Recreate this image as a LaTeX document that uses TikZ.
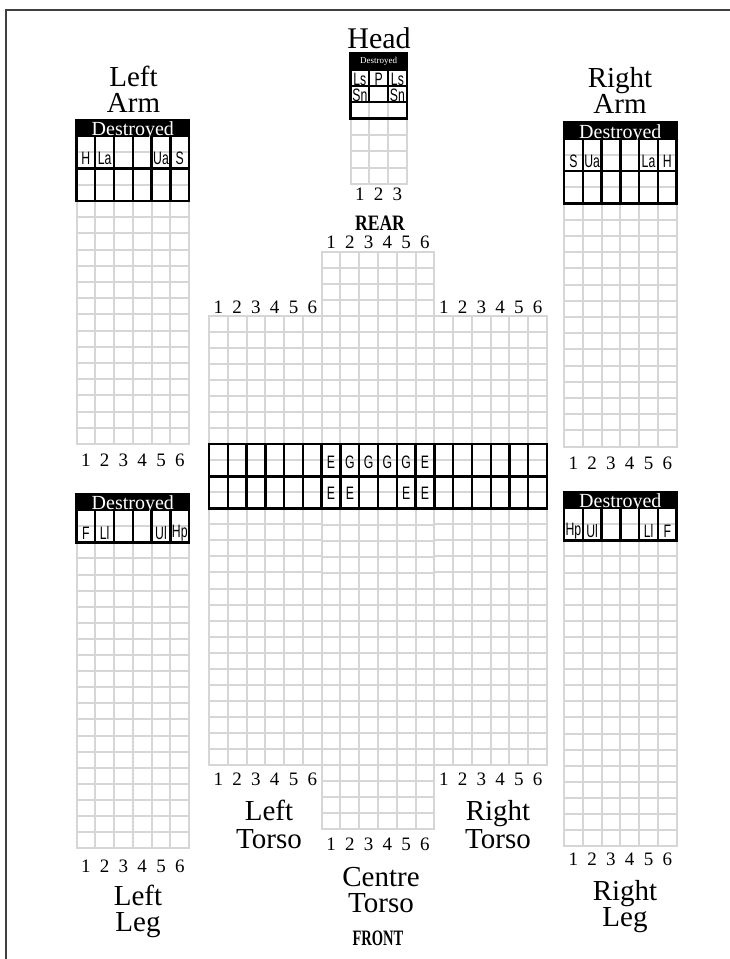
\documentclass[tikz,border=0pt]{standalone}
\usepackage{fontspec}
\usepackage{graphicx}
\setmainfont{Liberation Serif}
\newfontfamily\narrowsans[FakeStretch=0.68]{Liberation Sans}
\tikzset{
  gridline/.style={draw=gray!32, line width=2pt, line cap=rect},
  thickcell/.style={draw=black, line width=2.4pt},
  headerbar/.style={fill=black, draw=black, line width=2.4pt},
  bigtext/.style={font=\fontsize{29}{26}\selectfont, anchor=base, inner sep=0pt, align=center},
  numtext/.style={font=\fontsize{19}{21}\selectfont, anchor=base, inner sep=0pt},
  celltext/.style={font=\narrowsans\fontsize{18}{20}\selectfont, inner sep=0pt},
  desttext/.style={text=white, anchor=base, inner sep=0pt, font=\fontsize{20}{22}\selectfont},
  sidetext/.style={font=\bfseries\fontsize{22}{24}\selectfont, anchor=base, inner sep=0pt},
}
\newcommand{\mkgrid}[6]{%
  \foreach \i in {0,...,#3} {\draw[gridline] ({#1+\i*#5},{#2}) -- ({#1+\i*#5},{#2+#4*#6});}
  \foreach \j in {0,...,#4} {\draw[gridline] ({#1},{#2+\j*#6}) -- ({#1+#3*#5},{#2+\j*#6});}
}
\begin{document}
\begin{tikzpicture}[x=1pt,y=-1pt]
\useasboundingbox (0,0) rectangle (729,959);
% frame
\draw[line width=1.5pt, draw=black!75] (6,960) -- (6,10) -- (730,10);

% ---------------- HEAD ----------------
\mkgrid{350.5}{53}{3}{8}{18.78}{16.4}
\draw[headerbar] (350.5,53) rectangle ++(56.34,16.4);
\foreach \r in {0,1} {\foreach \c in {0,1,2} {\draw[thickcell] ({350.5+\c*18.78},{69.4+\r*16.4}) rectangle ++(18.78,16.4);}}
\draw[thickcell] (350.5,102.2) rectangle ++(56.34,16.4);
\node[text=white, inner sep=0pt, font=\fontsize{9}{10}\selectfont] (hdest) at (378.7,61) {Destroyed};
\node[celltext] (hls1) at ({350.5+0.5*18.78},79) {Ls};
\node[celltext] (hp) at ({350.5+1.5*18.78},79) {P};
\node[celltext] (hls2) at ({350.5+2.5*18.78},79) {Ls};
\node[celltext] (hsn1) at ({350.5+0.5*18.78},95.4) {Sn};
\node[celltext] (hsn2) at ({350.5+2.5*18.78},95.4) {Sn};
\node[bigtext, font=\fontsize{30}{26}\selectfont] (headT) at (379,48) {Head};
\foreach \i in {1,2,3} {\node[numtext] (hd\i) at ({350.5+(\i-0.5)*18.78},200) {\i};}
\node[sidetext] (rear) at (380,230) {\scalebox{0.8}[1]{REAR}};

% ---------------- LEFT ARM ----------------
\mkgrid{76.5}{120}{6}{20}{18.78}{16.2}
\draw[headerbar] (76.5,120) rectangle ++(112.68,16.2);
\foreach \r in {0,1} {\foreach \c in {0,...,5} {\draw[thickcell] ({76.5+\c*18.78},{136.2+\r*32.4}) rectangle ++(18.78,32.4);}}
\node[desttext] (ladest) at (132.8,135.5) {Destroyed};
\foreach \c/\t in {0/H,1/La,4/Ua,5/S} {\node[celltext] (lac\c) at ({76.5+(\c+0.5)*18.78},158.5) {\t};}
\node[bigtext] (laT) at (133.5,112) {Left\\Arm};
\foreach \i in {1,...,6} {\node[numtext] (lad\i) at ({76.5+(\i-0.5)*18.78},466) {\i};}

% ---------------- RIGHT ARM ----------------
\mkgrid{564}{122.5}{6}{20}{18.78}{16.2}
\draw[headerbar] (564,122.5) rectangle ++(112.68,16.2);
\foreach \r in {0,1} {\foreach \c in {0,...,5} {\draw[thickcell] ({564+\c*18.78},{138.7+\r*32.4}) rectangle ++(18.78,32.4);}}
\node[desttext] (radest) at (620.3,138) {Destroyed};
\foreach \c/\t in {0/S,1/Ua,4/La,5/H} {\node[celltext] (rac\c) at ({564+(\c+0.5)*18.78},161) {\t};}
\node[bigtext] (raT) at (620,113) {Right\\Arm};
\foreach \i in {1,...,6} {\node[numtext] (rad\i) at ({564+(\i-0.5)*18.78},469) {\i};}

% ---------------- LEFT LEG ----------------
\mkgrid{76.5}{494}{6}{22}{18.78}{16.1}
\draw[headerbar] (76.5,494) rectangle ++(112.68,16.1);
\foreach \c in {0,...,5} {\draw[thickcell] ({76.5+\c*18.78},510.1) rectangle ++(18.78,32.2);}
\node[desttext] (lldest) at (132.8,509) {Destroyed};
\foreach \c/\t in {0/F,1/Ll,4/Ul,5/Hp} {\node[celltext] (llc\c) at ({76.5+(\c+0.5)*18.78},533) {\t};}
\foreach \i in {1,...,6} {\node[numtext] (lld\i) at ({76.5+(\i-0.5)*18.78},872) {\i};}
\node[bigtext] (llT) at (138,931) {Left\\Leg};

% ---------------- RIGHT LEG ----------------
\mkgrid{564}{492}{6}{22}{18.78}{16.1}
\draw[headerbar] (564,492) rectangle ++(112.68,16.1);
\foreach \c in {0,...,5} {\draw[thickcell] ({564+\c*18.78},508.1) rectangle ++(18.78,32.2);}
\node[desttext] (rldest) at (620.3,507) {Destroyed};
\foreach \c/\t in {0/Hp,1/Ul,4/Ll,5/F} {\node[celltext] (rlc\c) at ({564+(\c+0.5)*18.78},531) {\t};}
\foreach \i in {1,...,6} {\node[numtext] (rld\i) at ({564+(\i-0.5)*18.78},865) {\i};}
\node[bigtext] (rlT) at (625,926) {Right\\Leg};

% ---------------- TORSO ----------------
\mkgrid{209}{316}{6}{28}{18.78}{16.03}
\mkgrid{321.68}{252}{6}{36}{18.78}{16.03}
\mkgrid{434.36}{316}{6}{28}{18.78}{16.03}
\foreach \r in {0,1} {\foreach \c in {0,...,17} {\draw[thickcell] ({209+\c*18.78},{444.24+\r*32.06}) rectangle ++(18.78,32.06);}}
\foreach \c/\t in {6/E,7/G,8/G,9/G,10/G,11/E} {\node[celltext] (ba\c) at ({209+(\c+0.5)*18.78},462) {\t};}
\foreach \c/\t in {6/E,7/E,10/E,11/E} {\node[celltext] (bb\c) at ({209+(\c+0.5)*18.78},493) {\t};}
% torso numbers
\foreach \i in {1,...,6} {
  \node[numtext] (ltt\i) at ({209+(\i-0.5)*18.78},313) {\i};
  \node[numtext] (rtt\i) at ({434.36+(\i-0.5)*18.78},313) {\i};
  \node[numtext] (ctt\i) at ({321.68+(\i-0.5)*18.78},248) {\i};
  \node[numtext] (ltb\i) at ({209+(\i-0.5)*18.78},785) {\i};
  \node[numtext] (rtb\i) at ({434.36+(\i-0.5)*18.78},785) {\i};
  \node[numtext] (ctb\i) at ({321.68+(\i-0.5)*18.78},850) {\i};
}
\node[bigtext, font=\fontsize{29}{28}\selectfont] (ltT) at (269,848) {Left\\Torso};
\node[bigtext, font=\fontsize{29}{28}\selectfont] (rtT) at (498,848) {Right\\Torso};
\node[bigtext] (ctT) at (381,912) {Centre\\Torso};
\node[sidetext] (front) at (378,945) {\scalebox{0.66}[1]{FRONT}};
\end{tikzpicture}
\end{document}
